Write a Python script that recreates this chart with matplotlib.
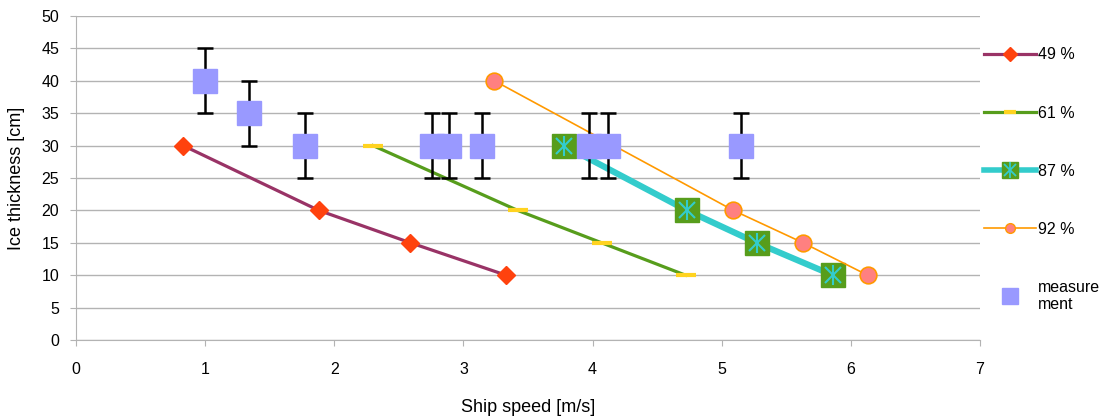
import matplotlib.pyplot as plt
from matplotlib.lines import Line2D

plt.rcParams['font.family'] = ['Liberation Sans', 'DejaVu Sans']

# Данные
thick = [30, 20, 15, 10]
v49 = [0.83, 1.88, 2.59, 3.33]
v61 = [2.30, 3.42, 4.07, 4.72]
v87 = [3.78, 4.73, 5.27, 5.86]
v92_x = [3.24, 5.09, 5.63, 6.13]
v92_y = [40, 20, 15, 10]

meas_x = [1.0, 1.34, 1.77, 2.76, 2.89, 3.14, 3.97, 4.12, 5.15]
meas_y = [40, 35, 30, 30, 30, 30, 30, 30, 30]
meas_err = [5, 5, 5, 5, 5, 5, 5, 5, 5]

fig = plt.figure(figsize=(11.06, 4.17), dpi=100)
ax = fig.add_axes([76 / 1106, 1 - 340 / 417, (980 - 76) / 1106, (340 - 16) / 417])

ax.plot(v49, thick, color='#993366', lw=2.3, marker='D', ms=9,
        mfc='#FF420E', mec='#FF420E', zorder=3)
ax.plot(v61, thick, color='#579D1C', lw=2.3, marker='_', ms=14, mew=3,
        mec='#FFD320', zorder=3)
ax.plot(v87, thick, color='#33CCCC', lw=4.5, marker='s', ms=17,
        mfc='#579D1C', mec='#579D1C', zorder=3)
ax.plot(v87, thick, ls='none', marker='x', ms=11, mew=1.5, mec='#33CCCC', zorder=4)
ax.plot(v87, thick, ls='none', marker='|', ms=15, mew=1.5, mec='#33CCCC', zorder=4)
ax.plot(v92_x, v92_y, color='#FF9900', lw=1.2, marker='o', ms=12,
        mfc='#FF8080', mec='#FF9900', mew=1.2, zorder=3)

ax.errorbar(meas_x, meas_y, yerr=meas_err, fmt='none', ecolor='black',
            elinewidth=1.8, capsize=5.5, capthick=1.8, zorder=5)
ax.plot(meas_x, meas_y, ls='none', marker='s', ms=17, mfc='#9999FF',
        mec='#9999FF', zorder=6)

ax.set_xlim(0, 7)
ax.set_ylim(0, 50)
ax.set_xticks(range(0, 8))
ax.set_yticks(range(0, 51, 5))
ax.grid(axis='y', color='#b3b3b3', lw=1)
ax.set_axisbelow(True)
for s in ['top', 'right']:
    ax.spines[s].set_visible(False)
for s in ['left', 'bottom']:
    ax.spines[s].set_color('#b3b3b3')
ax.tick_params(colors='#b3b3b3', labelcolor='black', labelsize=11.5, length=4)
ax.tick_params(axis='x', pad=12)
ax.tick_params(axis='y', pad=8)
ax.set_xlabel('Ship speed [m/s]', fontsize=13, labelpad=16)
ax.set_ylabel('Ice thickness [cm]', fontsize=13, labelpad=12)

# Легенда
h49 = Line2D([], [], color='#993366', lw=2.3, marker='D', ms=7, mfc='#FF420E', mec='#FF420E')
h61 = Line2D([], [], color='#579D1C', lw=2.3, marker='_', ms=9, mew=3, mec='#FFD320')
h87a = Line2D([], [], color='#33CCCC', lw=4, marker='s', ms=12, mfc='#579D1C', mec='#579D1C')
h87b = Line2D([], [], ls='none', marker='x', ms=8, mew=1.3, mec='#33CCCC')
h87c = Line2D([], [], ls='none', marker='|', ms=11, mew=1.3, mec='#33CCCC')
h92 = Line2D([], [], color='#FF9900', lw=1.2, marker='o', ms=7, mfc='#FF8080', mec='#FF9900')
hm = Line2D([], [], ls='none', marker='s', ms=12, mfc='#9999FF', mec='#9999FF')

fig.legend([h49, h61, (h87a, h87b, h87c), h92, hm],
           ['49 %', '61 %', '87 %', '92 %', 'measure\nment'],
           loc='upper left', bbox_to_anchor=(978 / 1106, 1 - 41 / 417),
           frameon=False, fontsize=11.5, labelspacing=2.7,
           handlelength=3.2, handletextpad=0.15, borderaxespad=0)

fig.savefig('out.png', dpi=100)
